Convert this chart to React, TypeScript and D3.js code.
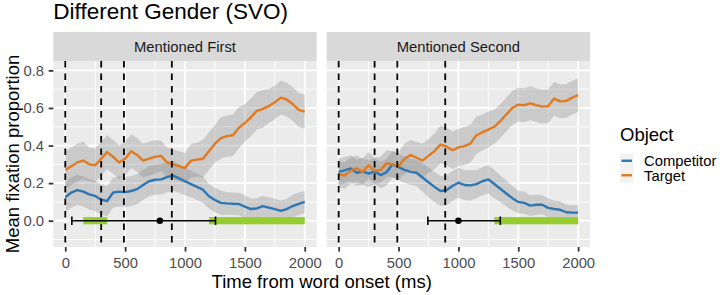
import React, { useEffect, useRef } from 'react'
import * as d3 from 'd3'

// time bins (ms from word onset)
const times = d3.range(0, 2001, 50)

const panelNames = ['Mentioned First', 'Mentioned Second']
const seriesNames = ['Competitor', 'Target']
const seriesColors = ['#2D77B3', '#E27A1F']

// mean fixation proportion, panel 1
const firstCompetitor = [
  0.125, 0.15, 0.163, 0.155, 0.14, 0.132, 0.112, 0.105, 0.15, 0.155,
  0.152, 0.158, 0.168, 0.19, 0.21, 0.218, 0.22, 0.232, 0.24, 0.225,
  0.21, 0.195, 0.18, 0.165, 0.13, 0.11, 0.095, 0.092, 0.09, 0.089,
  0.075, 0.062, 0.065, 0.078, 0.07, 0.062, 0.052, 0.062, 0.078, 0.09,
  0.1,
]
const firstTarget = [
  0.27, 0.29, 0.31, 0.32, 0.3, 0.295, 0.33, 0.365, 0.34, 0.31,
  0.33, 0.37, 0.35, 0.32, 0.33, 0.34, 0.345, 0.31, 0.3, 0.29,
  0.28, 0.32, 0.325, 0.33, 0.37, 0.41, 0.44, 0.45, 0.455, 0.495,
  0.52, 0.55, 0.585, 0.595, 0.61, 0.63, 0.655, 0.645, 0.62, 0.59,
  0.58,
]
// mean fixation proportion, panel 2
const secondCompetitor = [
  0.26, 0.268, 0.278, 0.255, 0.262, 0.25, 0.262, 0.243, 0.258, 0.3,
  0.285, 0.27, 0.26, 0.255, 0.23, 0.205, 0.18, 0.158, 0.162, 0.185,
  0.202, 0.19, 0.188, 0.195, 0.21, 0.22, 0.195, 0.17, 0.145, 0.12,
  0.1, 0.095, 0.08, 0.085, 0.085, 0.068, 0.062, 0.058, 0.045, 0.043,
  0.043,
]
const secondTarget = [
  0.248, 0.24, 0.265, 0.278, 0.26, 0.295, 0.265, 0.27, 0.305, 0.3,
  0.29, 0.33, 0.35, 0.335, 0.32, 0.345, 0.37, 0.405, 0.395, 0.375,
  0.39, 0.397, 0.41, 0.455, 0.47, 0.485, 0.5, 0.53, 0.565, 0.6,
  0.618, 0.615, 0.625, 0.615, 0.607, 0.61, 0.65, 0.635, 0.638, 0.655,
  0.668,
]

// half width of the confidence band around each mean
const firstCompetitorCI = [
  0.08, 0.08, 0.08, 0.08, 0.08, 0.08, 0.08, 0.08, 0.08, 0.08,
  0.08, 0.08, 0.08, 0.08, 0.08, 0.08, 0.08, 0.08, 0.08, 0.075,
  0.075, 0.07, 0.07, 0.07, 0.065, 0.065, 0.065, 0.06, 0.06, 0.06,
  0.06, 0.055, 0.055, 0.055, 0.055, 0.055, 0.055, 0.055, 0.06, 0.06,
  0.06,
]
const firstTargetCI = [
  0.1, 0.1, 0.1, 0.1, 0.09, 0.09, 0.09, 0.09, 0.09, 0.09,
  0.09, 0.09, 0.09, 0.09, 0.09, 0.09, 0.08, 0.08, 0.08, 0.08,
  0.08, 0.09, 0.09, 0.1, 0.1, 0.1, 0.11, 0.11, 0.11, 0.11,
  0.1, 0.1, 0.1, 0.1, 0.09, 0.09, 0.09, 0.09, 0.09, 0.09,
  0.09,
]
const secondCompetitorCI = [
  0.07, 0.07, 0.07, 0.07, 0.07, 0.07, 0.07, 0.07, 0.07, 0.07,
  0.07, 0.07, 0.07, 0.07, 0.075, 0.08, 0.08, 0.08, 0.08, 0.08,
  0.08, 0.08, 0.08, 0.075, 0.075, 0.075, 0.075, 0.07, 0.07, 0.065,
  0.06, 0.06, 0.055, 0.055, 0.05, 0.05, 0.045, 0.045, 0.04, 0.04,
  0.04,
]
const secondTargetCI = [
  0.07, 0.07, 0.07, 0.07, 0.07, 0.07, 0.07, 0.07, 0.07, 0.07,
  0.075, 0.08, 0.08, 0.085, 0.09, 0.09, 0.095, 0.1, 0.1, 0.1,
  0.1, 0.1, 0.1, 0.1, 0.095, 0.095, 0.09, 0.09, 0.09, 0.09,
  0.09, 0.09, 0.09, 0.09, 0.09, 0.09, 0.09, 0.09, 0.09, 0.09,
  0.09,
]

// word boundaries (dashed lines)
const wordOnsets = [0, 300, 490, 890]

// divergence point estimate with its interval: [low, mean, high]
const firstDivergence = [55, 790, 1255]
const secondDivergence = [745, 1000, 1350]

// windows where target and competitor differ
const firstWindows = [[150, 350], [1200, 2000]]
const secondWindows = [[1300, 2000]]

const xBreaks = [0, 500, 1000, 1500, 2000]
const xMinor = [250, 750, 1250, 1750]
const yBreaks = [0, 0.2, 0.4, 0.6, 0.8]
const yMinor = [-0.1, 0.1, 0.3, 0.5, 0.7]

const FONT = 'Liberation Sans, Arial, Helvetica, sans-serif'

export default function App() {
  const ref = useRef<SVGSVGElement>(null)

  useEffect(() => {
    document.body.style.margin = '0'
    const svg = d3.select(ref.current)
    svg.selectAll('*').remove()
    svg.attr('font-family', FONT)

    const panelX = [53.3, 326.7]
    const panelW = 263.4
    const stripTop = 32
    const panelTop = 61
    const panelBottom = 247

    const y = d3.scaleLinear().domain([-0.14, 0.85]).range([panelBottom, panelTop])
    const x = d3.scaleLinear().domain([-100, 2100]).range([0, panelW])

    const panelData = [
      { means: [firstCompetitor, firstTarget], ci: [firstCompetitorCI, firstTargetCI], div: firstDivergence, windows: firstWindows },
      { means: [secondCompetitor, secondTarget], ci: [secondCompetitorCI, secondTargetCI], div: secondDivergence, windows: secondWindows },
    ]

    panelData.forEach((p, pi) => {
      const g = svg.append('g').attr('transform', `translate(${panelX[pi]},0)`)

      // background + grid
      g.append('rect')
        .attr('x', 0).attr('y', panelTop)
        .attr('width', panelW).attr('height', panelBottom - panelTop)
        .attr('fill', '#EBEBEB')

      g.selectAll('.xminor').data(xMinor).enter().append('line')
        .attr('x1', d => x(d)).attr('x2', d => x(d))
        .attr('y1', panelTop).attr('y2', panelBottom)
        .attr('stroke', '#fff').attr('stroke-width', 0.9)
      g.selectAll('.yminor').data(yMinor).enter().append('line')
        .attr('x1', 0).attr('x2', panelW)
        .attr('y1', d => y(d)).attr('y2', d => y(d))
        .attr('stroke', '#fff').attr('stroke-width', 0.9)
      g.selectAll('.xmajor').data(xBreaks).enter().append('line')
        .attr('x1', d => x(d)).attr('x2', d => x(d))
        .attr('y1', panelTop).attr('y2', panelBottom)
        .attr('stroke', '#fff').attr('stroke-width', 1.8)
      g.selectAll('.ymajor').data(yBreaks).enter().append('line')
        .attr('x1', 0).attr('x2', panelW)
        .attr('y1', d => y(d)).attr('y2', d => y(d))
        .attr('stroke', '#fff').attr('stroke-width', 1.8)

      // strip
      g.append('rect')
        .attr('x', 0).attr('y', stripTop)
        .attr('width', panelW).attr('height', panelTop - stripTop)
        .attr('fill', '#D9D9D9')
      g.append('text')
        .attr('x', panelW / 2).attr('y', (stripTop + panelTop) / 2 + 5.3)
        .attr('text-anchor', 'middle')
        .attr('font-size', 14.8)
        .attr('fill', '#1A1A1A')
        .text(panelNames[pi])

      // confidence bands
      p.means.forEach((vals, si) => {
        const ci = p.ci[si]
        const area = d3.area<number>()
          .x((_, i) => x(times[i]))
          .y0((d, i) => y(d - ci[i]))
          .y1((d, i) => y(d + ci[i]))
        g.append('path')
          .datum(vals)
          .attr('d', area)
          .attr('fill', '#7F7F7F')
          .attr('fill-opacity', 0.3)
      })

      // mean lines
      p.means.forEach((vals, si) => {
        const line = d3.line<number>()
          .x((_, i) => x(times[i]))
          .y(d => y(d))
        g.append('path')
          .datum(vals)
          .attr('d', line)
          .attr('fill', 'none')
          .attr('stroke', seriesColors[si])
          .attr('stroke-width', 2.4)
          .attr('stroke-linejoin', 'round')
      })

      // word onsets
      g.selectAll('.onset').data(wordOnsets).enter().append('line')
        .attr('x1', d => x(d)).attr('x2', d => x(d))
        .attr('y1', panelTop).attr('y2', panelBottom)
        .attr('stroke', '#000').attr('stroke-width', 1.8)
        .attr('stroke-dasharray', '6.5,6')

      // significant windows
      g.selectAll('.win').data(p.windows).enter().append('rect')
        .attr('x', d => x(d[0]))
        .attr('width', d => x(d[1]) - x(d[0]))
        .attr('y', y(0) - 3.6).attr('height', 7.2)
        .attr('fill', '#95CD2E')

      // divergence estimate
      const [lo, mid, hi] = p.div
      g.append('line')
        .attr('x1', x(lo)).attr('x2', x(hi))
        .attr('y1', y(0)).attr('y2', y(0))
        .attr('stroke', '#000').attr('stroke-width', 1.6)
      ;[lo, hi].forEach(v => {
        g.append('line')
          .attr('x1', x(v)).attr('x2', x(v))
          .attr('y1', y(0) - 4.2).attr('y2', y(0) + 4.2)
          .attr('stroke', '#000').attr('stroke-width', 1.6)
      })
      g.append('circle')
        .attr('cx', x(mid)).attr('cy', y(0)).attr('r', 3.3)
        .attr('fill', '#000')

      // x axis
      const xa = g.append('g')
        .attr('transform', `translate(0,${panelBottom})`)
        .call(d3.axisBottom(x).tickValues(xBreaks).tickSize(4.6).tickPadding(5.4).tickFormat(d3.format('d')))
      xa.select('.domain').remove()
      xa.selectAll('line').attr('stroke', '#333').attr('stroke-width', 1.8)
      xa.selectAll('text').attr('fill', '#4D4D4D').attr('font-size', 14.8).attr('font-family', FONT)

      if (pi === 0) {
        const ya = g.append('g')
          .call(d3.axisLeft(y).tickValues(yBreaks).tickSize(4.6).tickPadding(4.7).tickFormat(d3.format('.1f')))
        ya.select('.domain').remove()
        ya.selectAll('line').attr('stroke', '#333').attr('stroke-width', 1.8)
        ya.selectAll('text').attr('fill', '#4D4D4D').attr('font-size', 14.8).attr('font-family', FONT)
      }
    })

    // titles
    svg.append('text')
      .attr('x', 53.3).attr('y', 18.8)
      .attr('font-size', 22.5)
      .attr('fill', '#000')
      .text('Different Gender (SVO)')

    svg.append('text')
      .attr('x', (panelX[0] + panelX[1] + panelW) / 2).attr('y', 288)
      .attr('text-anchor', 'middle')
      .attr('font-size', 18.5)
      .attr('fill', '#000')
      .text('Time from word onset (ms)')

    svg.append('text')
      .attr('transform', `translate(19,${(panelTop + panelBottom) / 2}) rotate(-90)`)
      .attr('text-anchor', 'middle')
      .attr('font-size', 18.5)
      .attr('fill', '#000')
      .text('Mean fixation proportion')

    // legend
    const lg = svg.append('g').attr('transform', 'translate(620,0)')
    lg.append('text')
      .attr('x', 0).attr('y', 141)
      .attr('font-size', 18.5)
      .attr('fill', '#000')
      .text('Object')
    seriesNames.forEach((name, i) => {
      const top = 153.5 + i * 14.5
      lg.append('rect')
        .attr('x', 0).attr('y', top)
        .attr('width', 13.5).attr('height', 14.5)
        .attr('fill', '#F2F2F2')
      lg.append('line')
        .attr('x1', 1.5).attr('x2', 12)
        .attr('y1', top + 7.25).attr('y2', top + 7.25)
        .attr('stroke', seriesColors[i]).attr('stroke-width', 2.4)
      lg.append('text')
        .attr('x', 24).attr('y', top + 7.25 + 5.3)
        .attr('font-size', 14.8)
        .attr('fill', '#000')
        .text(name)
    })
  }, [])

  return <svg ref={ref} width={720} height={295} style={{ display: 'block' }} />
}
